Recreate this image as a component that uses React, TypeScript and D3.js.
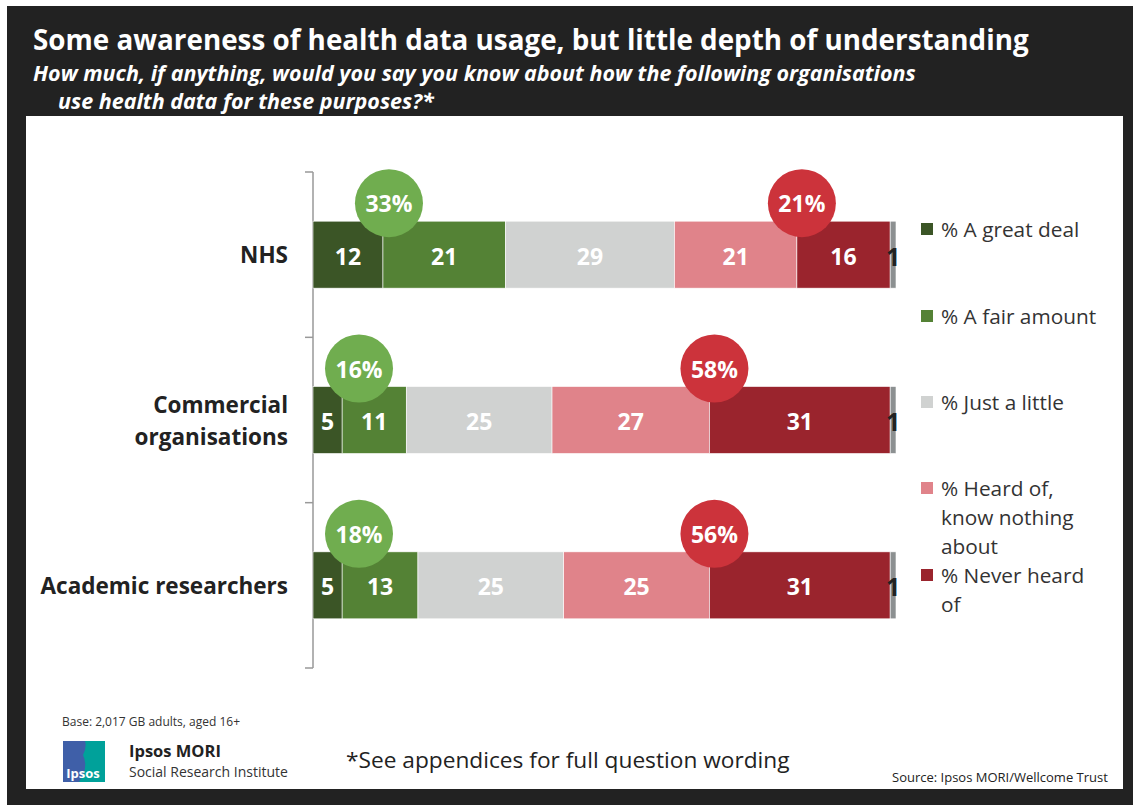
import React from "react";
import * as d3 from "d3";

const W = 1133;
const H = 805;

const categories = ["NHS", "Commercial organisations", "Academic researchers"];
const categoryLines = [["NHS"], ["Commercial", "organisations"], ["Academic researchers"]];

const greatDeal = [12, 5, 5];
const fairAmount = [21, 11, 13];
const justLittle = [29, 25, 25];
const heardOf = [21, 27, 25];
const neverHeard = [16, 31, 31];
const dontKnow = [1, 1, 1];

const knowTotals = ["33%", "16%", "18%"];
const notKnowTotals = ["21%", "58%", "56%"];

const seriesNames = [
  "% A great deal",
  "% A fair amount",
  "% Just a little",
  "% Heard of, know nothing about",
  "% Never heard of",
];
const legendLines = [
  ["% A great deal"],
  ["% A fair amount"],
  ["% Just a little"],
  ["% Heard of,", "know nothing", "about"],
  ["% Never heard", "of"],
];

const COLORS = ["#3b5526", "#548235", "#d0d2d1", "#e0838a", "#9a242d", "#8c9091"];
const GREEN = "#70ad4f";
const RED = "#cc333b";
const FONT = "'Open Sans', 'Noto Sans', sans-serif";

const MARGIN = { left: 313, right: 237, top: 172, bottom: 137 };

export default function App() {
  const series = [greatDeal, fairAmount, justLittle, heardOf, neverHeard, dontKnow];

  const x = d3.scaleLinear().domain([0, 100]).range([MARGIN.left, W - MARGIN.right]);
  const y = d3
    .scaleBand<string>()
    .domain(categories)
    .range([MARGIN.top, H - MARGIN.bottom])
    .paddingInner(0.595)
    .paddingOuter(0.2975);

  const rows = categories.map((c, i) => {
    let acc = 0;
    const segs = series.map((s, k) => {
      const x0 = acc;
      acc += s[i];
      return { k, v: s[i], x0, x1: acc };
    });
    return { c, i, segs };
  });

  const bw = y.bandwidth();
  const step = y.step();
  const ticks = [MARGIN.top, ...categories.map((c) => (y(c) as number) + bw + (step - bw) / 2)];

  return (
    <div style={{ position: "absolute", left: 0, top: 0 }}>
      <svg width={W} height={H} style={{ display: "block", fontFamily: FONT }}>
        <rect x={0} y={0} width={W} height={H} fill="#fff" />
        <rect x={7} y={6} width={W - 7} height={H - 6} fill="#222" />
        <rect x={26} y={116} width={1097} height={673} fill="#fff" />

        <text x={33} y={50} fill="#fff" fontSize={27.8} fontWeight={700}>
          Some awareness of health data usage, but little depth of understanding
        </text>
        <text x={33} y={81} fill="#fff" fontSize={21.5} fontWeight={700} fontStyle="italic">
          How much, if anything, would you say you know about how the following organisations
        </text>
        <text x={58} y={109} fill="#fff" fontSize={21.5} fontWeight={700} fontStyle="italic">
          use health data for these purposes?*
        </text>

        {/* axis */}
        <line x1={MARGIN.left} x2={MARGIN.left} y1={MARGIN.top} y2={H - MARGIN.bottom} stroke="#999" strokeWidth={1.5} />
        {ticks.map((t, i) => (
          <line key={i} x1={MARGIN.left - 8} x2={MARGIN.left} y1={t} y2={t} stroke="#999" strokeWidth={1.5} />
        ))}

        {rows.map((r) => {
          const y0 = y(r.c) as number;
          const cy = y0 + bw / 2;
          const lines = categoryLines[r.i];
          return (
            <g key={r.c}>
              {lines.map((ln, j) => (
                <text
                  key={j}
                  x={288}
                  y={cy + (j - (lines.length - 1) / 2) * 32}
                  textAnchor="end"
                  dominantBaseline="central"
                  fontSize={22.5}
                  fontWeight={700}
                  fill="#222"
                >
                  {ln}
                </text>
              ))}
              {r.segs.map((s) => (
                <rect
                  key={s.k}
                  x={x(s.x0)}
                  y={y0}
                  width={x(s.x1) - x(s.x0)}
                  height={bw}
                  fill={COLORS[s.k]}
                  stroke="#fff"
                  strokeWidth={0.6}
                />
              ))}
              {r.segs.map((s) => (
                <text
                  key={"t" + s.k}
                  x={(x(s.x0) + x(s.x1)) / 2}
                  y={cy + 1}
                  textAnchor="middle"
                  dominantBaseline="central"
                  fontSize={s.k === 5 ? 25 : 23}
                  fontWeight={700}
                  fill={s.k === 5 ? "#222" : "#fff"}
                >
                  {s.v}
                </text>
              ))}
              {/* know total */}
              <g transform={`translate(${Math.max(x(r.segs[0].x1) + 6, x(0) + 46)},${y0 - 18})`}>
                <circle r={34} fill={GREEN} />
                <text textAnchor="middle" dominantBaseline="central" fontSize={23} fontWeight={700} fill="#fff">
                  {knowTotals[r.i]}
                </text>
              </g>
              {/* not heard total */}
              <g transform={`translate(${x(r.segs[3].x1) + 5},${y0 - 18})`}>
                <circle r={34} fill={RED} />
                <text textAnchor="middle" dominantBaseline="central" fontSize={23} fontWeight={700} fill="#fff">
                  {notKnowTotals[r.i]}
                </text>
              </g>
            </g>
          );
        })}

        {/* legend */}
        {seriesNames.map((name, k) => {
          const ly = [229, 316, 402, 488, 575][k];
          return (
            <g key={name}>
              <rect x={921} y={ly - 6} width={12} height={12} fill={COLORS[k]} />
              {legendLines[k].map((ln, j) => (
                <text key={j} x={941} y={ly + j * 29} dominantBaseline="central" fontSize={20.8} fill="#333">
                  {ln}
                </text>
              ))}
            </g>
          );
        })}

        {/* footer */}
        <text x={62} y={726} fontSize={12} fill="#333">
          Base: 2,017 GB adults, aged 16+
        </text>
        <g transform="translate(63,741)">
          <rect x={0} y={0} width={42} height={41} fill="#3f5fa8" />
          <path d="M22,0 L42,0 L42,41 L16,41 Q26,26 20,14 Q24,6 22,0 Z" fill="#00a19a" />
          <text x={20} y={37} textAnchor="middle" fontSize={13} fontWeight={700} fill="#fff">
            Ipsos
          </text>
        </g>
        <text x={129} y={757} fontSize={16.5} fontWeight={700} fill="#222">
          Ipsos MORI
        </text>
        <text x={129} y={777} fontSize={14} fill="#333">
          Social Research Institute
        </text>
        <text x={346} y={768} fontSize={22.7} fill="#222">
          *See appendices for full question wording
        </text>
        <text x={892} y={782} fontSize={13} fill="#222">
          Source:  Ipsos MORI/Wellcome Trust
        </text>
      </svg>
    </div>
  );
}
